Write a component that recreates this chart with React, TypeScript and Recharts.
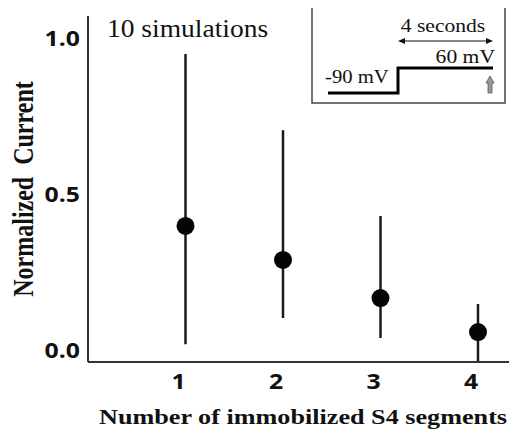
import React from 'react';
import { ScatterChart, Scatter, XAxis, YAxis, ErrorBar } from 'recharts';

const segments = [1, 2, 3, 4];
const meanCurrent = [0.401, 0.292, 0.17, 0.061];
const upperCurrent = [0.952, 0.708, 0.433, 0.151];
const lowerCurrent = [0.022, 0.106, 0.042, -0.035];
const yTicks = [0, 0.5, 1.0];
const xTitle = 'Number of immobilized S4 segments';
const yTitle = 'Normalized\u00A0\u00A0Current';
const note = '10 simulations';

const data = segments.map((s, i) => ({
  x: s,
  y: meanCurrent[i],
  err: [meanCurrent[i] - lowerCurrent[i], upperCurrent[i] - meanCurrent[i]],
}));

const SERIF = "'Liberation Serif', serif";
const SANS = "'Open Sans', sans-serif";
const SX = 1.18;

const serif = (size: number, bold = false): React.CSSProperties => ({
  fontFamily: SERIF,
  fontSize: size,
  fontWeight: bold ? 700 : 400,
});

const XTick = (props: any) => {
  const { x, y, payload } = props;
  return (
    <text
      transform={`translate(${x - 7},${y + 15}) scale(${SX},1)`}
      textAnchor="middle"
      style={{ fontFamily: SANS, fontWeight: 700, fontSize: 21 }}
      fill="#111"
    >
      {payload.value}
    </text>
  );
};

const YTick = (props: any) => {
  const { x, y, payload } = props;
  return (
    <text
      transform={`translate(${x},${y + 7}) scale(${SX},1)`}
      textAnchor="end"
      style={{ fontFamily: SANS, fontWeight: 700, fontSize: 21 }}
      fill="#111"
    >
      {Number(payload.value).toFixed(1)}
    </text>
  );
};

const Dot = (props: any) => {
  const { cx, cy } = props;
  return <circle cx={cx} cy={cy} r={9} fill="#050505" />;
};

const Inset = () => (
  <svg
    width={517}
    height={439}
    style={{ position: 'absolute', left: 0, top: 0, pointerEvents: 'none' }}
  >
    <text transform={`translate(107,37) scale(1.1,1)`} style={serif(25)} fill="#111">
      {note}
    </text>
    <rect x={312} y={6} width={193} height={97} fill="#fff" stroke="#444" strokeWidth={1.5} />
    <text
      transform={`translate(443,32) scale(1.2,1)`}
      textAnchor="middle"
      style={serif(18)}
      fill="#111"
    >
      4 seconds
    </text>
    <line x1={402} y1={41} x2={489} y2={41} stroke="#111" strokeWidth={1.2} />
    <polygon points="398,41 405,38 405,44" fill="#111" />
    <polygon points="493,41 486,38 486,44" fill="#111" />
    <text
      transform={`translate(495,63) scale(1.2,1)`}
      textAnchor="end"
      style={serif(18)}
      fill="#111"
    >
      60 mV
    </text>
    <text
      transform={`translate(325,83) scale(1.15,1)`}
      textAnchor="start"
      style={serif(18)}
      fill="#111"
    >
      -90 mV
    </text>
    <polyline
      points="328,93 398,93 398,68 493,68"
      fill="none"
      stroke="#000"
      strokeWidth={3}
    />
    <polygon
      points="490,76 494,83 492,83 492,93 488,93 488,83 486,83"
      fill="#999"
      stroke="#555"
      strokeWidth={0.8}
    />
  </svg>
);

export default function App() {
  return (
    <div style={{ position: 'relative', left: -8, top: -8, width: 517, height: 439 }}>
      <ScatterChart
        width={517}
        height={439}
        margin={{ top: 16, right: 0, bottom: 0, left: 0 }}
      >
        <XAxis
          type="number"
          dataKey="x"
          domain={[0, 4.4]}
          ticks={segments}
          allowDataOverflow
          height={77}
          tickLine={false}
          tickSize={0}
          tickMargin={12}
          axisLine={{ stroke: '#333', strokeWidth: 2 }}
          tick={<XTick />}
          label={{
            content: () => (
              <text
                transform={`translate(303,424) scale(1.19,1)`}
                textAnchor="middle"
                style={serif(22, true)}
                fill="#111"
              >
                {xTitle}
              </text>
            ),
          }}
        />
        <YAxis
          type="number"
          dataKey="y"
          domain={[-0.035, 1.074]}
          ticks={yTicks}
          allowDataOverflow
          width={88}
          tickLine={false}
          tickSize={0}
          tickMargin={8}
          axisLine={{ stroke: '#333', strokeWidth: 2 }}
          tick={<YTick />}
          label={{
            content: () => (
              <text
                transform={`translate(33,189) scale(1.25,1) rotate(-90)`}
                textAnchor="middle"
                style={serif(24, true)}
                fill="#111"
              >
                {yTitle}
              </text>
            ),
          }}
        />
        <Scatter data={data} dataKey="y" shape={<Dot />} isAnimationActive={false}>
          <ErrorBar
            dataKey="err"
            direction="y"
            width={0}
            stroke="#1a1a1a"
            strokeWidth={2.5}
            isAnimationActive={false}
          />
        </Scatter>
      </ScatterChart>
      <Inset />
    </div>
  );
}
